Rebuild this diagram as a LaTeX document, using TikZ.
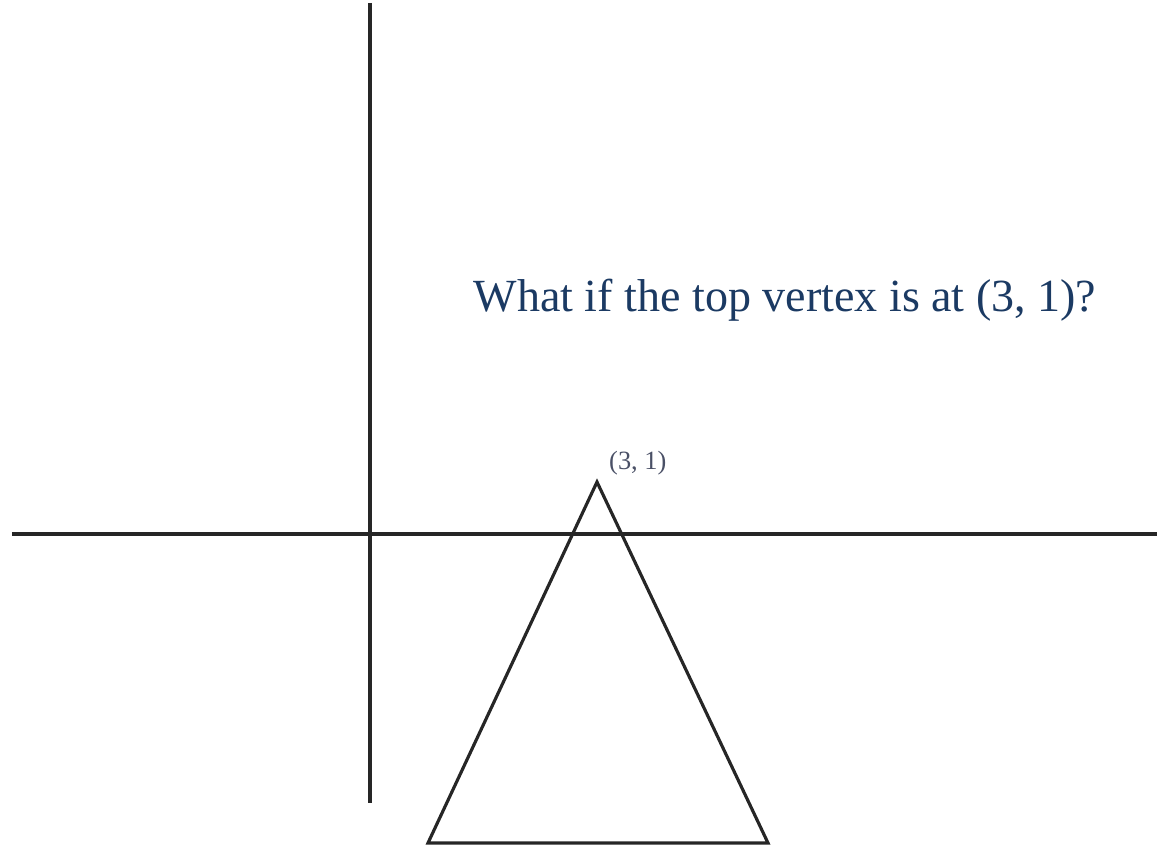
\documentclass[tikz,border=0pt]{standalone}
\usepackage{fontspec}
\setmainfont{Liberation Serif}
\usetikzlibrary{positioning}
\definecolor{navy}{HTML}{1B3A63}
\definecolor{ink}{HTML}{262626}
\definecolor{tag}{HTML}{4A5066}
\tikzset{axis/.style={draw=ink,line width=1.3pt},
  tri/.style={draw=ink,line width=0.9pt,line join=miter},
  question/.style={text=navy,font=\fontsize{13.1}{16}\selectfont,inner sep=0pt}}
\begin{document}
\begin{tikzpicture}[x=1cm,y=1cm]
\useasboundingbox (0,0) rectangle (11.57,8.46);
% axes
\coordinate (ytop) at (3.70,8.43);
\coordinate (ybot) at (3.70,0.43);
\coordinate (xleft) at (0.12,3.12);
\coordinate (xright) at (11.57,3.12);
\draw[axis] (ytop) -- (ybot);
\draw[axis] (xleft) -- (xright);
% triangle
\coordinate (apex) at (5.97,3.64);
\coordinate (baseL) at (4.28,0.03);
\coordinate (baseR) at (7.68,0.03);
\draw[tri] (apex) -- (baseL) -- (baseR) -- cycle;
\node[text=tag,font=\fontsize{7.5}{9}\selectfont,anchor=south west,inner sep=1pt]
  (apexlabel) at (6.05,3.67) {(3, 1)};
% question
\node[question] (q) at (7.85,5.46) {What if the top vertex is at (3, 1)?};
\end{tikzpicture}
\end{document}
